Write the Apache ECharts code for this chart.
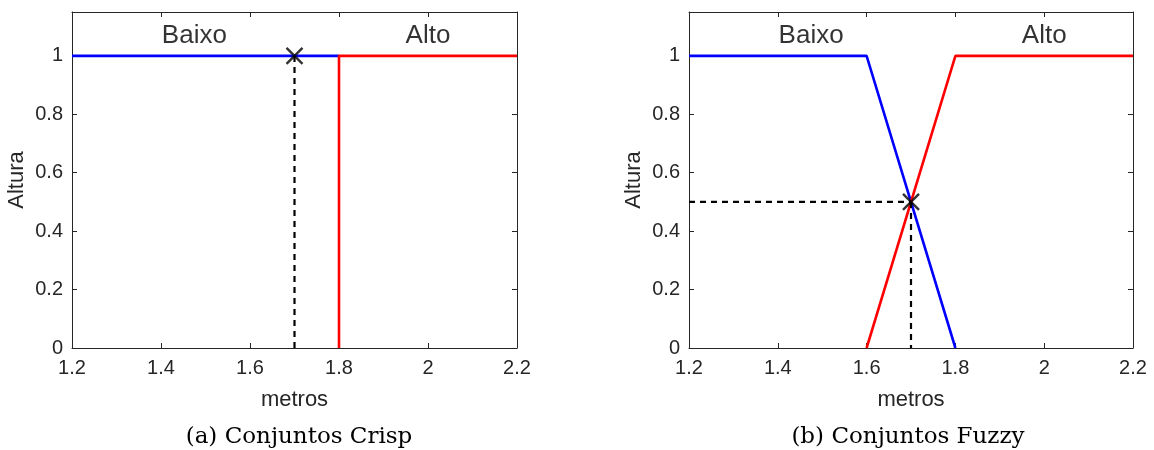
<!DOCTYPE html>
<html><head><meta charset="utf-8">
<script src="https://cdn.jsdelivr.net/npm/echarts@6/dist/echarts.min.js"></script>
<style>html,body{margin:0;padding:0;background:#fff}#c{width:1154px;height:450px}</style>
</head><body><div id="c"></div>
<script>
// Data
const xTicks = [1.2, 1.4, 1.6, 1.8, 2, 2.2];
const yTicks = [0, 0.2, 0.4, 0.6, 0.8, 1];
const crispBaixo = [[1.2, 1], [1.8, 1]];
const crispAlto = [[1.8, 0], [1.8, 1], [2.2, 1]];
const crispDash = [[1.7, 0], [1.7, 1]];
const crispPoint = [[1.7, 1]];
const fuzzyBaixo = [[1.2, 1], [1.6, 1], [1.8, 0]];
const fuzzyAlto = [[1.6, 0], [1.8, 1], [2.2, 1]];
const fuzzyDashH = [[1.2, 0.5], [1.7, 0.5]];
const fuzzyDashV = [[1.7, 0.5], [1.7, 0]];
const fuzzyPoint = [[1.7, 0.5]];
const setLabels = [{name: 'Baixo', value: [1.475, 1.07]}, {name: 'Alto', value: [2.0, 1.07]}];
const captions = ['(a) Conjuntos Crisp', '(b) Conjuntos Fuzzy'];
const xName = 'metros', yName = 'Altura';

const axisCol = '#262626';
const fontSans = 'Liberation Sans, Arial, sans-serif';
function xAx(gi, top) {
  return {type: 'value', gridIndex: gi, min: 1.2, max: 2.2, interval: 0.2, position: top ? 'top' : 'bottom',
    name: top ? '' : xName, nameLocation: 'middle', nameGap: 41,
    nameTextStyle: {color: axisCol, fontSize: 22, fontFamily: fontSans},
    axisLine: {show: true, onZero: false, lineStyle: {color: axisCol, width: 1}},
    axisTick: {show: true, inside: true, length: 5, lineStyle: {color: axisCol}},
    axisLabel: {show: !top, color: axisCol, fontSize: 20, fontFamily: fontSans, margin: 10,
      formatter: v => String(Math.round(v * 10) / 10)},
    splitLine: {show: false}};
}
function yAx(gi, right) {
  return {type: 'value', gridIndex: gi, min: 0, max: 1.15, interval: 0.2, position: right ? 'right' : 'left',
    name: right ? '' : yName, nameLocation: 'middle', nameGap: 44,
    nameTextStyle: {color: axisCol, fontSize: 22, fontFamily: fontSans},
    axisLine: {show: true, onZero: false, lineStyle: {color: axisCol, width: 1}},
    axisTick: {show: true, inside: true, length: 5, lineStyle: {color: axisCol}},
    axisLabel: {show: !right, color: axisCol, fontSize: 20, fontFamily: fontSans, margin: 9,
      showMaxLabel: false, formatter: v => String(Math.round(v * 10) / 10)},
    splitLine: {show: false}};
}
function line(data, color, xi, yi, dashed) {
  return {type: 'line', data, xAxisIndex: xi, yAxisIndex: yi, symbol: 'none', animation: false,
    lineStyle: {color, width: dashed ? 2.2 : 2.6, type: dashed ? [6, 5] : 'solid'}, z: dashed ? 3 : 2};
}
function marker(data, xi, yi) {
  return {type: 'scatter', data, xAxisIndex: xi, yAxisIndex: yi, symbol: 'path://M0,0L10,10M10,0L0,10',
    symbolSize: 16, animation: false, z: 5,
    itemStyle: {color: 'none', borderColor: '#000', borderWidth: 2.4}};
}
function labels(xi, yi) {
  return {type: 'scatter', data: setLabels, xAxisIndex: xi, yAxisIndex: yi, symbolSize: 0, animation: false,
    label: {show: true, position: 'inside', formatter: p => p.name, color: '#000', fontSize: 26, fontFamily: fontSans}};
}
const capStyle = {fontFamily: 'DejaVu Serif, serif', fontWeight: 'normal', fontSize: 23, color: '#000'};
const chart = echarts.init(document.getElementById('c'));
chart.setOption({
  backgroundColor: '#fff',
  animation: false,
  grid: [
    {left: 72, right: 1154 - 517, top: 12, bottom: 450 - 348},
    {left: 689, right: 1154 - 1133, top: 12, bottom: 450 - 348}
  ],
  title: [
    {text: captions[0], left: 294, top: 421, textAlign: 'center', textStyle: capStyle},
    {text: captions[1], left: 903, top: 421, textAlign: 'center', textStyle: capStyle}
  ],
  xAxis: [xAx(0, false), xAx(0, true), xAx(1, false), xAx(1, true)],
  yAxis: [yAx(0, false), yAx(0, true), yAx(1, false), yAx(1, true)],
  series: [
    line(crispBaixo, '#0000ff', 0, 0),
    line(crispAlto, '#ff0000', 0, 0),
    line(crispDash, '#000', 0, 0, true),
    marker(crispPoint, 0, 0),
    labels(0, 0),
    line(fuzzyBaixo, '#0000ff', 2, 2),
    line(fuzzyAlto, '#ff0000', 2, 2),
    line(fuzzyDashH, '#000', 2, 2, true),
    line(fuzzyDashV, '#000', 2, 2, true),
    marker(fuzzyPoint, 2, 2),
    labels(2, 2)
  ]
});
</script></body></html>
